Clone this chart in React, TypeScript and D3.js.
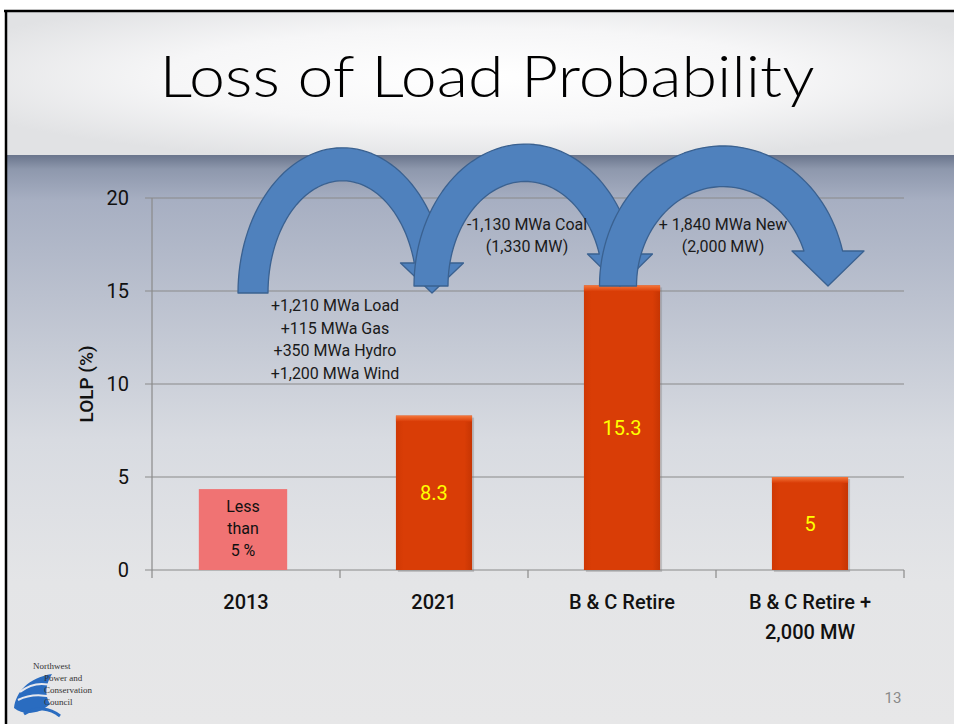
import * as React from "react";
import * as d3 from "d3";

const categories = ["2013", "2021", "B & C Retire", "B & C Retire +|2,000 MW"];
const lolpValues = [4.35, 8.3, 15.3, 5];
const valueLabels = ["Less|than|5 %", "8.3", "15.3", "5"];
const yTicks = [0, 5, 10, 15, 20];

const stepNotes = [
  ["+1,210 MWa Load", "+115 MWa Gas", "+350 MWa Hydro", "+1,200 MWa Wind"],
  ["-1,130 MWa Coal", "(1,330 MW)"],
  ["+ 1,840 MWa New", "(2,000 MW)"],
];

const W = 954;
const H = 724;
const plotLeft = 152;
const plotRight = 904;
const plotTop = 198;
const plotBottom = 570;

// curved "jump" arrow: left leg at xL, head tip at xR, both sitting on baseY
function arrowPath(
  xL: number,
  xR: number,
  baseY: number,
  topY: number,
  t: number,
  hw: number,
  hh: number
) {
  const cx = (xL + xR) / 2;
  const rm = (xR - xL) / 2;
  const rxO = rm + t / 2;
  const rxI = rm - t / 2;
  const ryO = baseY - topY;
  const ryI = ryO - t * 1.1;
  const aO = Math.asin(hh / ryO);
  const aI = Math.asin(hh / ryI);
  const p = d3.path();
  const n = 60;
  for (let i = 0; i <= n; i++) {
    const a = Math.PI - ((Math.PI - aO) * i) / n;
    const x = cx + rxO * Math.cos(a);
    const y = baseY - ryO * Math.sin(a);
    if (i === 0) p.moveTo(x, y);
    else p.lineTo(x, y);
  }
  p.lineTo(xR + hw / 2, baseY - hh);
  p.lineTo(xR, baseY);
  p.lineTo(xR - hw / 2, baseY - hh);
  for (let i = 0; i <= n; i++) {
    const a = aI + ((Math.PI - aI) * i) / n;
    p.lineTo(cx + rxI * Math.cos(a), baseY - ryI * Math.sin(a));
  }
  p.closePath();
  return p.toString();
}

export default function App() {
  const x = d3
    .scaleBand<string>()
    .domain(categories)
    .range([plotLeft, plotRight])
    .padding(0);
  const y = d3.scaleLinear().domain([0, 20]).range([plotBottom, plotTop]);
  const mid = (c: string) => x(c)! + x.bandwidth() / 2;
  const barW = x.bandwidth() * 0.405;

  // arrows hop from one bar to the next
  const arrows = [
    { a: mid(categories[0]) + 7, b: mid(categories[1]) - 2, base: y(15) + 2, top: y(22.7), t: 30, hw: 63, hh: 30 },
    { a: mid(categories[1]) - 3, b: mid(categories[2]) - 2, base: y(15) - 5, top: y(22.9), t: 34, hw: 65, hh: 32 },
    { a: mid(categories[2]) - 4, b: mid(categories[3]) + 18, base: y(15) - 5, top: y(22.8), t: 37, hw: 72, hh: 35 },
  ];
  const notePos = [
    { x: (mid(categories[0]) + mid(categories[1])) / 2 - 5, y: y(15) + 20 },
    { x: (mid(categories[1]) + mid(categories[2])) / 2 - 1, y: y(18.3) },
    { x: (mid(categories[2]) + mid(categories[3])) / 2 + 7, y: y(18.3) },
  ];

  return (
    <div style={{ position: "absolute", left: 0, top: 0 }}>
      <svg width={W} height={H} style={{ display: "block" }}>
        <defs>
          <radialGradient id="titleBg" cx="0.5" cy="0.45" r="0.6">
            <stop offset="0" stopColor="#ffffff" />
            <stop offset="0.55" stopColor="#f6f6f7" />
            <stop offset="1" stopColor="#e1e2e4" />
          </radialGradient>
          <linearGradient id="bodyBg" x1="0" y1="0" x2="0" y2="1">
            <stop offset="0" stopColor="#6a758c" />
            <stop offset="0.025" stopColor="#8e98ad" />
            <stop offset="0.08" stopColor="#a7afc2" />
            <stop offset="0.5" stopColor="#d8dbe1" />
            <stop offset="0.75" stopColor="#e4e5e7" />
            <stop offset="1" stopColor="#e7e7e8" />
          </linearGradient>
          <linearGradient id="barTop" x1="0" y1="0" x2="0" y2="1">
            <stop offset="0" stopColor="#f5763a" />
            <stop offset="1" stopColor="#d93c06" />
          </linearGradient>
          <linearGradient id="barSide" x1="0" y1="0" x2="1" y2="0">
            <stop offset="0" stopColor="#cf3804" />
            <stop offset="0.1" stopColor="#d93d06" />
            <stop offset="0.9" stopColor="#d93d06" />
            <stop offset="1" stopColor="#c63503" />
          </linearGradient>
        </defs>

        <rect x={0} y={0} width={W} height={H} fill="#ffffff" />
        <rect x={6} y={11} width={W - 6} height={145} fill="url(#titleBg)" />
        <rect x={6} y={155} width={W - 6} height={H - 155} fill="url(#bodyBg)" />
        <line x1={4} x2={W} y1={11} y2={11} stroke="#000" strokeWidth={2.5} />
        <line x1={6} x2={6} y1={10} y2={H} stroke="#000" strokeWidth={2.5} />

        <text
          x={487}
          y={97}
          textAnchor="middle"
          fontFamily="Lato, 'Open Sans', sans-serif"
          fontWeight={300}
          fontSize={57}
          textLength={655}
          lengthAdjust="spacingAndGlyphs"
          fill="#000"
        >
          Loss of Load Probability
        </text>

        {/* grid */}
        {yTicks.map((t) => (
          <g key={t}>
            <line
              x1={plotLeft - 7}
              x2={plotRight}
              y1={y(t)}
              y2={y(t)}
              stroke="#8a8a8a"
              strokeWidth={1.2}
            />
            <text
              x={129}
              y={y(t) + 7}
              textAnchor="end"
              fontFamily="Roboto, sans-serif"
              fontSize={20}
              fill="#111"
            >
              {t}
            </text>
          </g>
        ))}
        <line x1={plotLeft} x2={plotLeft} y1={plotTop} y2={plotBottom + 8} stroke="#8a8a8a" strokeWidth={1.2} />
        {categories.map((c, i) => (
          <line
            key={"tk" + i}
            x1={x(c)! + x.bandwidth()}
            x2={x(c)! + x.bandwidth()}
            y1={plotBottom}
            y2={plotBottom + 8}
            stroke="#8a8a8a"
            strokeWidth={1.2}
          />
        ))}

        <text
          transform={`translate(93, ${y(10)}) rotate(-90)`}
          textAnchor="middle"
          fontFamily="Roboto, sans-serif"
          fontSize={19}
          fontWeight={500}
          fill="#111"
        >
          LOLP (%)
        </text>

        {/* bars */}
        {categories.map((c, i) => {
          const v = lolpValues[i];
          const top = y(v);
          const h = plotBottom - top;
          if (i === 0) {
            const w = x.bandwidth() * 0.47;
            const bx = mid(c) - w / 2 - 3;
            return (
              <g key={c}>
                <rect x={bx} y={top} width={w} height={h} fill="#f07373" />
                {valueLabels[i].split("|").map((s, k) => (
                  <text
                    key={k}
                    x={bx + w / 2}
                    y={top + 23 + k * 22}
                    textAnchor="middle"
                    fontFamily="Roboto, sans-serif"
                    fontSize={16}
                    fill="#111"
                  >
                    {s}
                  </text>
                ))}
              </g>
            );
          }
          const bx = mid(c) - barW / 2;
          return (
            <g key={c}>
              <rect x={bx + 2} y={top + 2} width={barW} height={h} fill="#7a7a7a" opacity={0.35} />
              <rect x={bx} y={top} width={barW} height={h} fill="url(#barSide)" />
              <rect x={bx} y={top} width={barW} height={6} fill="url(#barTop)" />
              <text
                x={mid(c)}
                y={top + h / 2 + 7}
                textAnchor="middle"
                fontFamily="Roboto, sans-serif"
                fontSize={20}
                fill="#ffff00"
              >
                {valueLabels[i]}
              </text>
            </g>
          );
        })}

        {/* category labels */}
        {categories.map((c) =>
          c.split("|").map((s, k) => (
            <text
              key={c + k}
              x={mid(c)}
              y={609 + k * 30}
              textAnchor="middle"
              fontFamily="Roboto, sans-serif"
              fontSize={20}
              fontWeight={500}
              fill="#111"
            >
              {s}
            </text>
          ))
        )}

        {/* arrows */}
        {arrows.map((a, i) => (
          <path
            key={"ar" + i}
            d={arrowPath(a.a, a.b, a.base, a.top, a.t, a.hw, a.hh)}
            fill="#4f81bd"
            stroke="#3a6190"
            strokeWidth={1.3}
            strokeLinejoin="round"
          />
        ))}

        {/* step notes */}
        {stepNotes.map((lines, i) =>
          lines.map((s, k) => (
            <text
              key={"n" + i + k}
              x={notePos[i].x}
              y={notePos[i].y + k * 22.5}
              textAnchor="middle"
              fontFamily="Roboto, sans-serif"
              fontSize={16}
              fill="#1a1a1a"
            >
              {s}
            </text>
          ))
        )}

        {/* footer */}
        <text x={893} y={703} textAnchor="middle" fontFamily="Roboto, sans-serif" fontSize={15} fill="#8a8a8a">
          13
        </text>
        <g>
          <path d="M14,708 C16,692 28,678 52,674 C46,684 44,694 50,704 C40,714 24,716 14,708 Z" fill="#2a6cc0" />
          <path d="M20,692 C30,684 42,682 54,686" stroke="#e6e8ee" strokeWidth={2} fill="none" />
          <path d="M18,700 C30,694 42,694 56,698" stroke="#e6e8ee" strokeWidth={2} fill="none" />
          <path d="M24,714 C36,706 50,708 60,716" stroke="#2a6cc0" strokeWidth={3} fill="none" />
          {["Northwest", "Power and", "Conservation", "Council"].map((s, k) => (
            <text
              key={s}
              x={k === 0 ? 33 : 44}
              y={669 + k * 12}
              fontFamily="'Liberation Serif', serif"
              fontSize={9}
              fill="#333"
            >
              {s}
            </text>
          ))}
        </g>
      </svg>
    </div>
  );
}
